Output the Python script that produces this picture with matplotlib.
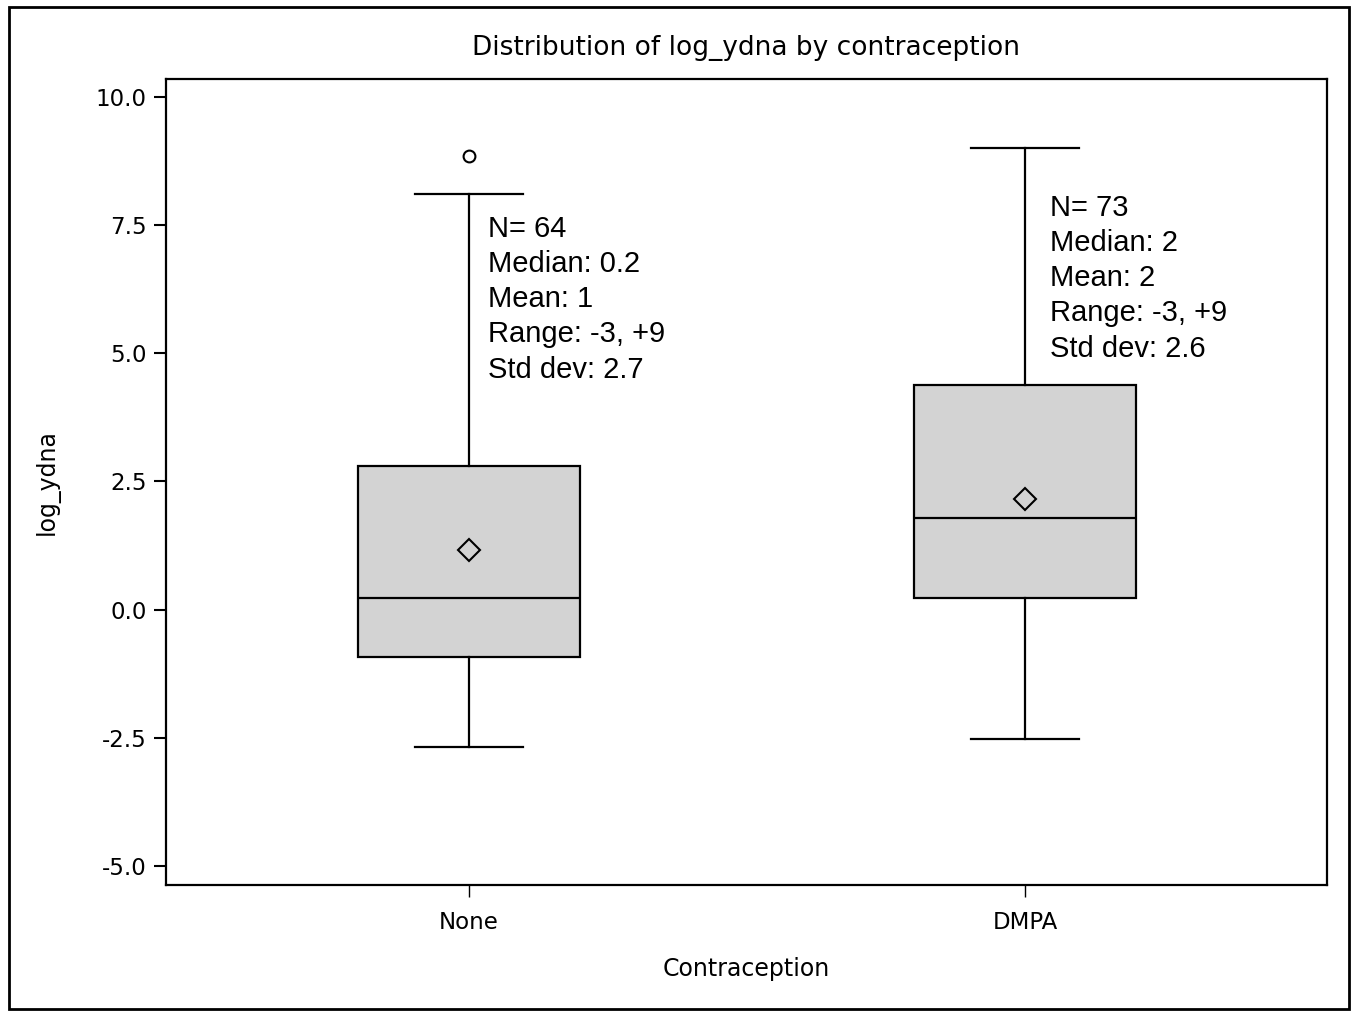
#!/usr/bin/env python
# box plot of log_ydna by contraception group, SAS-style
import numpy as np
import matplotlib.pyplot as plt
from matplotlib.patches import Rectangle

groups = ['None', 'DMPA']
q1 = [-0.92, 0.23]
med = [0.23, 1.78]
q3 = [2.81, 4.39]
whislo = [-2.67, -2.52]
whishi = [8.11, 9.01]
means = [1.17, 2.16]
fliers = [[8.85], []]

# summary text printed next to each box
n_obs = [64, 73]
med_txt = ['0.2', '2']
mean_txt = ['1', '2']
range_txt = ['-3, +9', '-3, +9']
sd_txt = ['2.7', '2.6']

fig = plt.figure(figsize=(13.55, 10.11), dpi=100)
W, H = 1355., 1011.
ax = fig.add_axes([166/W, 1 - 885/H, (1327-166)/W, (885-79)/H])

stats = []
for i in range(len(groups)):
    stats.append(dict(label=groups[i], q1=q1[i], med=med[i], q3=q3[i],
                      whislo=whislo[i], whishi=whishi[i], mean=means[i],
                      fliers=fliers[i]))

pos = np.arange(len(groups))
ax.bxp(stats, positions=pos, widths=0.4, capwidths=0.195, showmeans=True,
       patch_artist=True,
       boxprops=dict(facecolor='#D3D3D3', edgecolor='black', linewidth=1.6),
       medianprops=dict(color='black', linewidth=1.6),
       whiskerprops=dict(color='black', linewidth=1.6),
       capprops=dict(color='black', linewidth=1.6),
       meanprops=dict(marker='D', markersize=11, markerfacecolor='none',
                      markeredgecolor='black', markeredgewidth=1.5),
       flierprops=dict(marker='o', markersize=8.5, markerfacecolor='none',
                       markeredgecolor='black', markeredgewidth=1.5))

ax.set_xlim(-0.545, 1.543)
ax.set_ylim(-5.37, 10.35)
ax.set_yticks(np.arange(-5, 10.1, 2.5))
ax.set_yticklabels(['%.1f' % v for v in np.arange(-5, 10.1, 2.5)])
ax.set_xticks(pos)
ax.set_xticklabels(groups)
for s in ax.spines.values():
    s.set_linewidth(1.6)
ax.tick_params(axis='y', length=9, width=1.5, pad=5, labelsize=16.5)
ax.tick_params(axis='x', length=8.5, width=1.0, pad=10, labelsize=16.5)

ax.set_xlabel('Contraception', fontsize=17, labelpad=17)
ax.set_ylabel('log_ydna', fontsize=17, labelpad=26)
fig.text(0.5 * (166 + 1327) / W, 1 - 48/H,
         'Distribution of log_ydna by contraception',
         ha='center', va='center', fontsize=19)

# annotation anchors (x offset from box, baseline of last line)
txt_x = [0.034, 1.045]
txt_y = [4.525, 4.935]
for i in range(len(groups)):
    s = 'N= %d\nMedian: %s\nMean: %s\nRange: %s\nStd dev: %s' % (
        n_obs[i], med_txt[i], mean_txt[i], range_txt[i], sd_txt[i])
    ax.text(txt_x[i], txt_y[i], s, ha='left', va='baseline',
            fontsize=21, family='Liberation Sans', linespacing=1.33)

# outer frame round the whole picture
fig.patches.append(Rectangle((9/W, 1 - 1009/H), (1349-9)/W, (1009-7)/H,
                             transform=fig.transFigure, fill=False,
                             edgecolor='black', linewidth=2))

plt.savefig('out.png')
